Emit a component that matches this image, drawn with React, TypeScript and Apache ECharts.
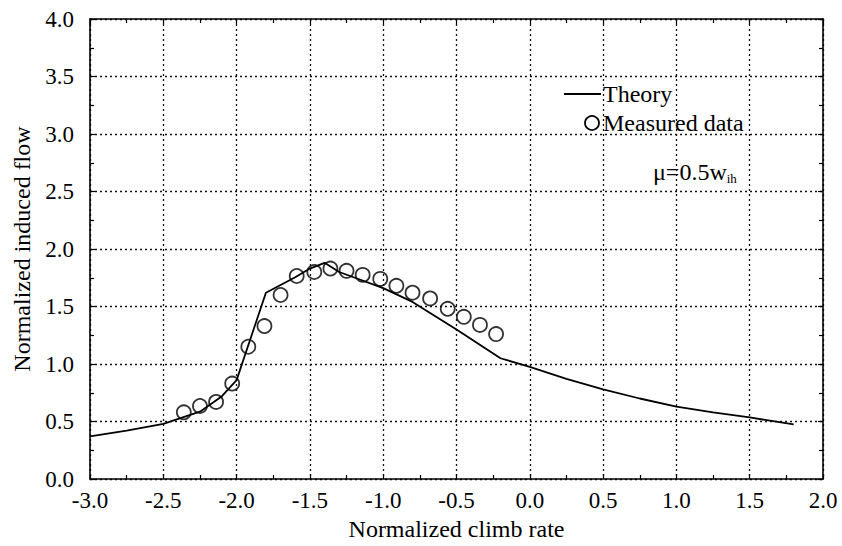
import React, { useEffect, useRef } from "react";
import * as echarts from "echarts";

const theoryX = [-3.0, -2.75, -2.5, -2.25, -2.1, -2.0, -1.8, -1.6, -1.5, -1.4, -1.3, -1.0, -0.8, -0.5, -0.2, 0.0, 0.25, 0.5, 0.75, 1.0, 1.25, 1.5, 1.8];
const theoryY = [0.37, 0.42, 0.48, 0.585, 0.72, 0.86, 1.62, 1.755, 1.83, 1.88, 1.8, 1.66, 1.54, 1.3, 1.05, 0.975, 0.87, 0.78, 0.7, 0.63, 0.58, 0.535, 0.475];

const measuredX = [-2.36, -2.25, -2.14, -2.03, -1.92, -1.81, -1.7, -1.59, -1.47, -1.36, -1.25, -1.14, -1.02, -0.91, -0.8, -0.68, -0.56, -0.45, -0.34, -0.23];
const measuredY = [0.58, 0.635, 0.67, 0.83, 1.15, 1.33, 1.6, 1.765, 1.8, 1.83, 1.81, 1.775, 1.74, 1.68, 1.62, 1.57, 1.48, 1.41, 1.34, 1.26];

const xMin = -3.0;
const xMax = 2.0;
const yMin = 0.0;
const yMax = 4.0;
const tickStep = 0.5;

const xTitle = "Normalized climb rate";
const yTitle = "Normalized induced flow";
const legendTheory = "Theory";
const legendMeasured = "Measured data";

const FONT = "Liberation Serif";

export default function App() {
  const ref = useRef<HTMLDivElement>(null);
  useEffect(() => {
    if (!ref.current) return;
    const chart = echarts.init(ref.current, undefined, { renderer: "svg" });
    const black = "#000";
    const gridLine = { color: "#111", type: [2, 3], width: 1.3 };
    const fmt = (v: number) => v.toFixed(1);
    const commonAxis = {
      type: "value",
      interval: tickStep,
      axisLine: { show: true, onZero: false, lineStyle: { color: black, width: 1.6 } },
      axisTick: { show: true, inside: true, length: 5, lineStyle: { color: black, width: 1.2 } },
      minorTick: { show: true, splitNumber: 2, length: 4, lineStyle: { color: black, width: 1.2 } },
    };
    chart.setOption({
      animation: false,
      backgroundColor: "#fff",
      textStyle: { fontFamily: FONT, color: black },
      grid: { left: 90, right: 19, top: 19, bottom: 67, show: false },
      xAxis: [
        {
          ...commonAxis,
          min: xMin,
          max: xMax,
          position: "bottom",
          splitLine: { show: true, lineStyle: gridLine },
          axisLabel: { show: true, color: black, fontFamily: FONT, fontSize: 23, margin: 10, formatter: fmt },
          name: xTitle,
          nameLocation: "middle",
          nameGap: 34,
          nameTextStyle: { color: black, fontFamily: FONT, fontSize: 24 },
        },
        {
          ...commonAxis,
          min: xMin,
          max: xMax,
          position: "top",
          splitLine: { show: false },
          axisLabel: { show: false },
        },
      ],
      yAxis: [
        {
          ...commonAxis,
          min: yMin,
          max: yMax,
          position: "left",
          splitLine: { show: true, lineStyle: gridLine },
          axisLabel: { show: true, color: black, fontFamily: FONT, fontSize: 23, margin: 16, formatter: fmt },
          name: yTitle,
          nameLocation: "middle",
          nameGap: 52,
          nameTextStyle: { color: black, fontFamily: FONT, fontSize: 24 },
        },
        {
          ...commonAxis,
          min: yMin,
          max: yMax,
          position: "right",
          splitLine: { show: false },
          axisLabel: { show: false },
        },
      ],
      series: [
        {
          name: legendTheory,
          type: "line",
          xAxisIndex: 0,
          yAxisIndex: 0,
          showSymbol: false,
          symbol: "none",
          lineStyle: { color: black, width: 1.8 },
          data: theoryX.map((x, i) => [x, theoryY[i]]),
          z: 3,
        },
        {
          name: legendMeasured,
          type: "scatter",
          xAxisIndex: 0,
          yAxisIndex: 0,
          symbol: "circle",
          symbolSize: 14,
          itemStyle: { color: "rgba(0,0,0,0)", borderColor: black, borderWidth: 1.8 },
          data: measuredX.map((x, i) => [x, measuredY[i]]),
          z: 4,
        },
      ],
      graphic: [
        { type: "line", shape: { x1: 564, y1: 94, x2: 601, y2: 94 }, style: { stroke: black, lineWidth: 1.8 } },
        {
          type: "text",
          x: 603,
          y: 94,
          style: { text: legendTheory, fill: black, fontFamily: FONT, fontSize: 24, verticalAlign: "middle", align: "left" },
        },
        { type: "circle", shape: { cx: 592, cy: 123, r: 7 }, style: { fill: "none", stroke: black, lineWidth: 1.8 } },
        {
          type: "text",
          x: 603,
          y: 123,
          style: { text: legendMeasured, fill: black, fontFamily: FONT, fontSize: 24, verticalAlign: "middle", align: "left" },
        },
        {
          type: "text",
          x: 653,
          y: 172,
          style: {
            text: "μ=0.5w{sub|ih}",
            fill: black,
            fontFamily: FONT,
            fontSize: 24,
            verticalAlign: "middle",
            align: "left",
            rich: {
              sub: { fontFamily: FONT, fontSize: 13, fill: black, padding: [12, 0, 0, 0] },
            },
          },
        },
      ],
    });
    return () => chart.dispose();
  }, []);
  return (
    <div
      ref={ref}
      style={{ position: "fixed", left: 0, top: 0, width: 842, height: 546, background: "#fff" }}
    />
  );
}
